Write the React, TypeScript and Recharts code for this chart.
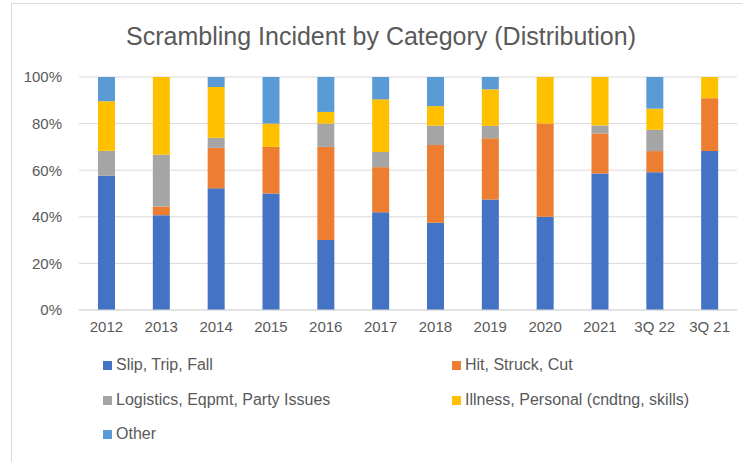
import React from "react";
import { BarChart, Bar, XAxis, YAxis, CartesianGrid } from "recharts";

const categories = ["2012", "2013", "2014", "2015", "2016", "2017", "2018", "2019", "2020", "2021", "3Q 22", "3Q 21"];
const slipTripFall = [57.6, 40.7, 52.2, 50, 30, 41.9, 37.5, 47.4, 40, 58.6, 59.1, 68.2];
const hitStruckCut = [0, 3.7, 17.4, 20, 40, 19.4, 33.3, 26.3, 40, 17.2, 9.1, 22.7];
const logistics = [10.7, 22.2, 4.3, 0, 10, 6.5, 8.3, 5.3, 0, 3.4, 9.1, 0];
const illness = [21.3, 33.4, 21.8, 10, 5, 22.6, 8.4, 15.7, 20, 20.8, 9.1, 9.1];
const other = [10.4, 0, 4.3, 20, 15, 9.6, 12.5, 5.3, 0, 0, 13.6, 0];
const yTicks = [0, 20, 40, 60, 80, 100];

const series = [
  { key: "slip", name: "Slip, Trip, Fall", color: "#4472C4" },
  { key: "hit", name: "Hit, Struck, Cut", color: "#ED7D31" },
  { key: "logistics", name: "Logistics, Eqpmt, Party Issues", color: "#A5A5A5" },
  { key: "illness", name: "Illness, Personal (cndtng, skills)", color: "#FFC000" },
  { key: "other", name: "Other", color: "#5B9BD5" },
];

const data = categories.map((c, i) => ({
  cat: c,
  slip: slipTripFall[i],
  hit: hitStruckCut[i],
  logistics: logistics[i],
  illness: illness[i],
  other: other[i],
}));

const font = "'Liberation Sans', Arial, sans-serif";
const textColor = "#595959";

// legend positions (two columns, Excel style)
const legendSpots = [
  { left: 103, top: 356 },
  { left: 452, top: 356 },
  { left: 103, top: 391 },
  { left: 452, top: 391 },
  { left: 103, top: 425 },
];

export default function App() {
  return (
    <div style={{ position: "fixed", left: 0, top: 0, width: 742, height: 462, overflow: "hidden", background: "#fff", fontFamily: font }}>
      <div style={{ position: "absolute", left: 11, top: 3, width: 800, height: 600, border: "1px solid #d9d9d9" }} />
      <div style={{ position: "absolute", left: 11, top: 22, width: 740, textAlign: "center", fontSize: 25, color: textColor }}>
        Scrambling Incident by Category (Distribution)
      </div>
      <div style={{ position: "absolute", left: 0, top: 0 }}>
        <BarChart width={742} height={462} data={data} margin={{ top: 77, right: 5, left: 0, bottom: 122 }}>
          <CartesianGrid vertical={false} stroke="#d9d9d9" />
          <XAxis
            dataKey="cat"
            height={30}
            axisLine={{ stroke: "#d9d9d9" }}
            tickLine={false}
            tickMargin={5}
            tick={{ fill: textColor, fontSize: 15, fontFamily: font }}
            interval={0}
          />
          <YAxis
            width={79}
            domain={[0, 100]}
            ticks={yTicks}
            axisLine={false}
            tickLine={false}
            tickMargin={11}
            tickFormatter={(v: number) => `${v}%`}
            tick={{ fill: textColor, fontSize: 15, fontFamily: font }}
          />
          {series.map((s) => (
            <Bar key={s.key} dataKey={s.key} name={s.name} stackId="a" fill={s.color} barSize={17} isAnimationActive={false} />
          ))}
        </BarChart>
      </div>
      {series.map((s, i) => (
        <div
          key={s.key}
          style={{ position: "absolute", left: legendSpots[i].left, top: legendSpots[i].top, display: "flex", alignItems: "center", fontSize: 16, color: textColor, whiteSpace: "nowrap" }}
        >
          <span style={{ display: "inline-block", width: 9, height: 9, background: s.color, marginRight: 4 }} />
          {s.name}
        </div>
      ))}
    </div>
  );
}
